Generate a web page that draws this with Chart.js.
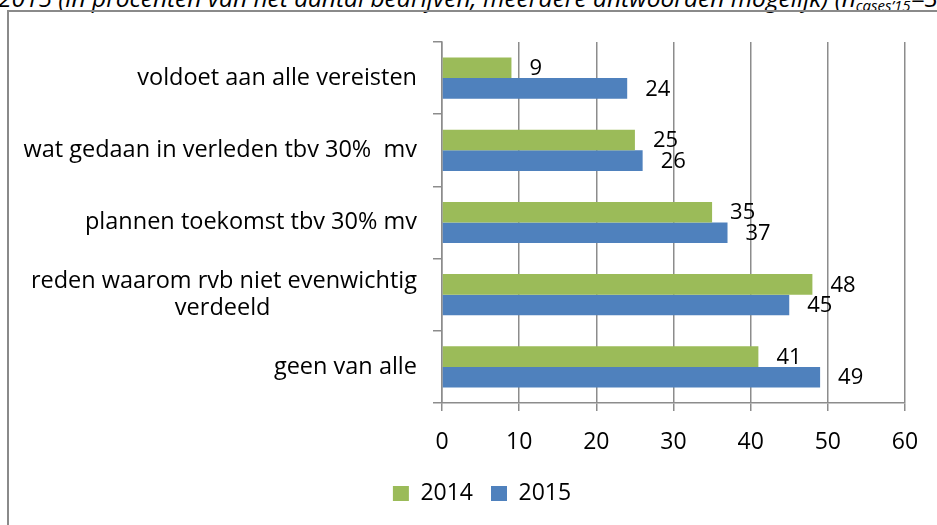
<!DOCTYPE html>
<html>
<head>
<meta charset="utf-8">
<script src="https://cdn.jsdelivr.net/npm/chart.js@4/dist/chart.umd.min.js"></script>
<style>
  html, body { margin: 0; padding: 0; background: #fff; overflow: hidden; width: 937px; height: 525px; }
  #caption {
    position: absolute; left: -2px; top: -14px; white-space: nowrap;
    font-family: 'Open Sans', sans-serif; font-style: italic; font-size: 24.5px; line-height: 24px; color: #000;
  }
  #caption sub { font-size: 15px; vertical-align: -4px; }
  #frame {
    position: absolute; left: 7px; top: 10px; width: 1000px; height: 600px;
    border-left: 2px solid #8a8a8a; border-top: 2px solid #8a8a8a;
  }
  #chart { position: absolute; left: 9px; top: 12px; }
</style>
</head>
<body>
<div id="caption">2015 (in procenten van het aantal bedrijven, meerdere antwoorden mogelijk) (n<sub>cases’15</sub>=3</div>
<div id="frame"></div>
<canvas id="chart" width="946" height="513"></canvas>
<script>
const categories = [
  'voldoet aan alle vereisten',
  'wat gedaan in verleden tbv 30%  mv',
  'plannen toekomst tbv 30% mv',
  ['reden waarom rvb niet evenwichtig', 'verdeeld'],
  'geen van alle'
]
const values2014 = [9, 25, 35, 48, 41]
const values2015 = [24, 26, 37, 45, 49]
const xTicks = [0, 10, 20, 30, 40, 50, 60]

const fontFamily = "'Open Sans', sans-serif"
Chart.defaults.font.family = fontFamily
Chart.defaults.color = '#000'

const gridColor = '#8c8c8c'
const labelSize = 23.5

// centre the second line of a two-line label under the first one
const measure = document.createElement('canvas').getContext('2d')
measure.font = `${labelSize}px ${fontFamily}`
function centreLines(label) {
  if (!Array.isArray(label)) return label
  const widest = Math.max(...label.map(l => measure.measureText(l).width))
  const space = measure.measureText(' ').width
  return label.map(l => {
    const n = Math.round((widest - measure.measureText(l).width) / 2 / space)
    return l + ' '.repeat(n)
  })
}

const valueLabels = {
  id: 'valueLabels',
  afterDatasetsDraw(chart) {
    const ctx = chart.ctx
    ctx.save()
    ctx.font = `22px ${fontFamily}`
    ctx.fillStyle = '#000'
    ctx.textAlign = 'left'
    ctx.textBaseline = 'middle'
    chart.data.datasets.forEach((ds, i) => {
      chart.getDatasetMeta(i).data.forEach((bar, j) => {
        ctx.fillText(String(ds.data[j]), bar.x + 18, bar.y + 1)
      })
    })
    ctx.restore()
  }
}

// the legend sits centred under the whole frame, not under the y axis labels
const legendShift = {
  id: 'legendShift',
  afterLayout(chart) {
    chart.legend.left += 50
  }
}

new Chart(document.getElementById('chart'), {
  type: 'bar',
  data: {
    labels: categories,
    datasets: [
      { label: '2014', data: values2014, backgroundColor: '#9bbb59' },
      { label: '2015', data: values2015, backgroundColor: '#4f81bd' }
    ]
  },
  options: {
    indexAxis: 'y',
    responsive: false,
    animation: false,
    categoryPercentage: 0.57,
    barPercentage: 1,
    layout: { padding: { left: 0, right: 50, top: 30, bottom: 10 } },
    scales: {
      x: {
        min: 0,
        max: 60,
        afterBuildTicks: scale => { scale.ticks = xTicks.map(v => ({ value: v })) },
        afterFit: scale => { scale.height = 61 },
        ticks: { font: { size: 23 }, padding: 18, color: '#000' },
        grid: { color: gridColor, lineWidth: 1.5, tickLength: 8 },
        border: { color: gridColor, width: 1.5 }
      },
      y: {
        afterFit: scale => { scale.width = 433 },
        ticks: {
          font: { size: labelSize, lineHeight: 1.15 },
          padding: 16,
          color: '#000',
          callback: function (value, index) { return centreLines(categories[index]) }
        },
        grid: { drawOnChartArea: false, color: gridColor, lineWidth: 1.5, tickLength: 9 },
        border: { color: gridColor, width: 1.5 }
      }
    },
    plugins: {
      legend: {
        position: 'bottom',
        labels: { boxWidth: 16, boxHeight: 15, padding: 18, font: { size: 23 }, color: '#000' }
      },
      tooltip: { enabled: false }
    }
  },
  plugins: [valueLabels, legendShift]
})
</script>
</body>
</html>
